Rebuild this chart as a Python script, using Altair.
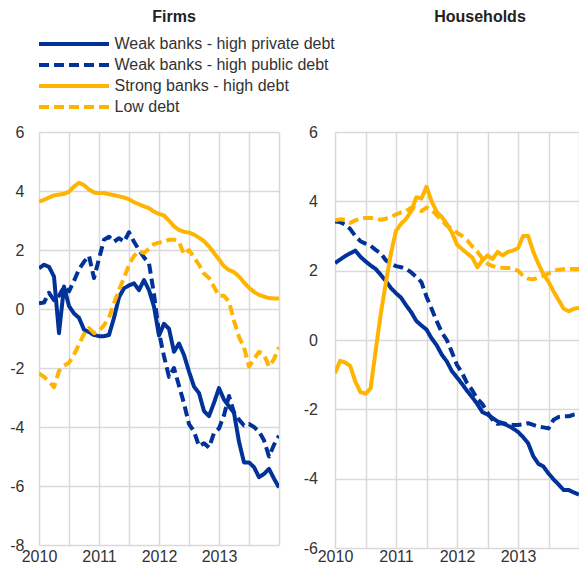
import altair as alt
import pandas as pd

SERIES = ["Weak banks - high private debt", "Weak banks - high public debt",
          "Strong banks - high debt", "Low debt"]
COLORS = ["#003299", "#003299", "#FFB400", "#FFB400"]
DASHES = [[1, 0], [10, 5], [1, 0], [10, 5]]

# monthly observations, Jan 2010 ... Jan 2014
MONTHS = [2010 + i / 12 for i in range(49)]
X_TICKS = [2010, 2010.5, 2011, 2011.5, 2012, 2012.5, 2013, 2013.5, 2014]

# ---- Firms ----
firms_weak_private = [1.38, 1.5, 1.43, 1.1, -0.82, 0.76, 0.1, -0.15, -0.3, -0.7,
                      -0.78, -0.88, -0.92, -0.92, -0.88, -0.3, 0.4, 0.7, 0.8, 0.87,
                      0.64, 0.98, 0.64, 0.08, -0.9, -0.5, -0.67, -1.45, -1.17, -1.56,
                      -2.12, -2.63, -2.85, -3.46, -3.63, -3.18, -2.68, -3.07, -3.3, -3.52,
                      -4.5, -5.2, -5.2, -5.36, -5.7, -5.59, -5.42, -5.75, -6.05]
firms_weak_public = [0.19, 0.22, 0.55, 0.3, 0.45, 0.75, 0.6, 0.95, 1.35, 1.6,
                     1.8, 1.05, 1.7, 2.35, 2.45, 2.28, 2.4, 2.28, 2.6, 2.28,
                     2.0, 1.75, 1.55, 0.5, -0.8, -1.6, -2.3, -2.0, -2.6, -3.2,
                     -3.9, -4.15, -4.65, -4.55, -4.7, -4.2, -4.05, -3.6, -2.95, -3.5,
                     -3.75, -3.95, -3.9, -4.0, -4.15, -4.45, -5.0, -4.6, -4.3]
firms_strong = [3.64, 3.7, 3.78, 3.85, 3.88, 3.9, 3.98, 4.15, 4.28, 4.2,
                4.05, 3.95, 3.93, 3.93, 3.89, 3.86, 3.82, 3.78, 3.72, 3.62,
                3.55, 3.48, 3.42, 3.3, 3.22, 3.17, 3.0, 2.8, 2.68, 2.62,
                2.59, 2.52, 2.42, 2.3, 2.12, 1.9, 1.68, 1.45, 1.32, 1.25,
                1.1, 0.9, 0.72, 0.58, 0.48, 0.42, 0.37, 0.36, 0.36]
firms_low = [-2.18, -2.3, -2.45, -2.65, -2.1, -1.92, -1.82, -1.55, -1.2, -0.85,
             -0.65, -0.82, -0.75, -0.55, -0.3, 0.2, 0.65, 1.05, 1.5, 1.8,
             1.95, 1.9, 2.05, 2.2, 2.25, 2.27, 2.35, 2.35, 2.28, 1.85,
             2.0, 1.75, 1.5, 1.2, 1.05, 0.75, 0.45, 0.45, 0.25, -0.4,
             -0.95, -1.3, -1.95, -1.7, -1.45, -1.55, -1.95, -1.7, -1.3]

# ---- Households ----
hh_weak_private = [2.22, 2.32, 2.42, 2.5, 2.58, 2.4, 2.27, 2.15, 2.05, 1.88,
                   1.7, 1.5, 1.35, 1.22, 1.0, 0.8, 0.55, 0.42, 0.3, 0.05,
                   -0.15, -0.42, -0.62, -0.9, -1.08, -1.27, -1.47, -1.65, -1.85, -2.08,
                   -2.15, -2.25, -2.35, -2.4, -2.47, -2.55, -2.65, -2.8, -2.98, -3.35,
                   -3.57, -3.65, -3.85, -4.02, -4.17, -4.33, -4.33, -4.4, -4.46]
hh_weak_public = [3.42, 3.4, 3.33, 3.2, 3.0, 2.85, 2.78, 2.72, 2.6, 2.5,
                  2.3, 2.2, 2.13, 2.1, 2.05, 1.95, 1.82, 1.67, 1.25, 0.9,
                  0.55, 0.22, 0.0, -0.35, -0.72, -0.95, -1.25, -1.45, -1.7, -1.85,
                  -2.1, -2.3, -2.42, -2.4, -2.43, -2.45, -2.45, -2.43, -2.4, -2.45,
                  -2.5, -2.52, -2.55, -2.3, -2.22, -2.2, -2.2, -2.15, -2.12]
hh_strong = [-0.96, -0.6, -0.65, -0.75, -1.2, -1.5, -1.55, -1.4, -0.3, 0.75,
             1.65, 2.5, 3.15, 3.35, 3.5, 3.72, 4.12, 4.08, 4.42, 4.0,
             3.7, 3.55, 3.35, 3.1, 2.75, 2.62, 2.5, 2.38, 2.1, 2.3,
             2.44, 2.34, 2.54, 2.44, 2.54, 2.58, 2.65, 3.0, 3.0, 2.55,
             2.2, 1.9, 1.68, 1.4, 1.15, 0.9, 0.83, 0.9, 0.93]
hh_low = [3.45, 3.48, 3.47, 3.38, 3.45, 3.5, 3.52, 3.52, 3.5, 3.47,
          3.5, 3.55, 3.62, 3.68, 3.72, 3.82, 3.78, 3.72, 3.82, 3.75,
          3.6, 3.45, 3.3, 3.2, 3.1, 3.0, 2.88, 2.7, 2.55, 2.35,
          2.2, 2.13, 2.1, 2.08, 2.08, 2.05, 2.0, 1.85, 1.77, 1.75,
          1.8, 1.85, 1.92, 2.0, 2.03, 2.04, 2.05, 2.05, 2.05]


def frame(values):
    rows = []
    for s, vals in zip(SERIES, values):
        for t, v in zip(MONTHS, vals):
            rows.append({"t": t, "v": v, "series": s})
    return pd.DataFrame(rows)


FONT = "Liberation Sans"


def panel(df, title, ymin, ymax, width, height, title_offset, title_dx,
          show_legend, y_label_pad, x_label_pad):
    if show_legend:
        leg = alt.Legend(title=None, orient="none", legendX=-2, legendY=-96,
                         direction="vertical", symbolType="stroke",
                         symbolSize=4900, symbolStrokeWidth=4,
                         labelFontSize=16, labelFont=FONT, labelColor="#333333",
                         labelLimit=600, labelOffset=3.5, clipHeight=16,
                         rowPadding=5, padding=0)
    else:
        leg = None
    return alt.Chart(
        df,
        title=alt.TitleParams(title, fontSize=16, font=FONT, fontWeight="bold",
                              color="#222222", anchor="middle", frame="group",
                              dx=title_dx, offset=title_offset),
    ).mark_line(strokeWidth=4, strokeCap="butt", strokeJoin="round", clip=True).encode(
        x=alt.X("t:Q",
                scale=alt.Scale(domain=[2010, 2014], nice=False, zero=False),
                axis=alt.Axis(values=X_TICKS, title=None, labelFlush=False,
                              labelPadding=x_label_pad,
                              labelExpr="datum.value % 1 == 0 && datum.value < 2014 ? datum.value + '' : ''")),
        y=alt.Y("v:Q",
                scale=alt.Scale(domain=[ymin, ymax], nice=False, zero=False),
                axis=alt.Axis(values=list(range(ymin, ymax + 1, 2)), title=None,
                              labelPadding=y_label_pad,
                              labelExpr="datum.value + ''")),
        color=alt.Color("series:N", scale=alt.Scale(domain=SERIES, range=COLORS),
                        legend=leg),
        strokeDash=alt.StrokeDash("series:N",
                                  scale=alt.Scale(domain=SERIES, range=DASHES),
                                  legend=leg),
    ).properties(width=width, height=height)


left = panel(frame([firms_weak_private, firms_weak_public, firms_strong, firms_low]),
             "Firms", -8, 6, 240, 413, 11, 15, True, 15, 3)
right = panel(frame([hh_weak_private, hh_weak_public, hh_strong, hh_low]),
              "Households", -6, 6, 244, 416, 99, 23, False, 17.5, 0.5)

chart = alt.hconcat(left, right, spacing=56, bounds="flush",
                    padding={"left": 1, "top": 1, "right": 0, "bottom": 0}
                    ).resolve_scale(color="independent", strokeDash="independent"
                    ).configure_view(stroke=None
                    ).configure_axis(grid=True, gridColor="#d9d9d9", gridWidth=1.5,
                                     domain=False, ticks=False, labelFont=FONT,
                                     labelFontSize=16, labelColor="#333333")

chart.save("out.html", embed_options={"renderer": "svg", "actions": False})
